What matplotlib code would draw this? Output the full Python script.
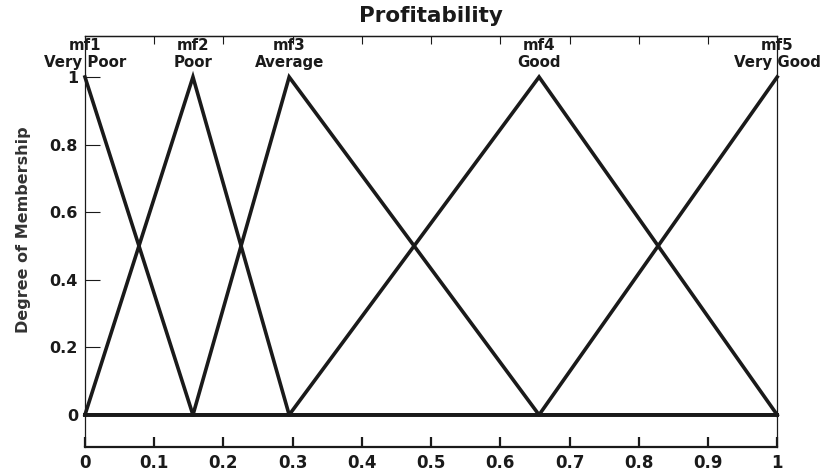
import numpy as np
import matplotlib
matplotlib.use("Agg")
import matplotlib.pyplot as plt

# membership functions, given as breakpoints over the whole universe [0, 1]
mf_names = ["mf1", "mf2", "mf3", "mf4", "mf5"]
mf_terms = ["Very Poor", "Poor", "Average", "Good", "Very Good"]
mf_peaks = [0.0, 0.156, 0.295, 0.656, 1.0]
mf_x = [
    [0.0, 0.156, 1.0],
    [0.0, 0.156, 0.295, 1.0],
    [0.0, 0.156, 0.295, 0.656, 1.0],
    [0.0, 0.295, 0.656, 1.0],
    [0.0, 0.656, 1.0],
]
mf_y = [
    [1, 0, 0],
    [0, 1, 0, 0],
    [0, 0, 1, 0, 0],
    [0, 0, 1, 0],
    [0, 0, 1],
]
x_ticks = [0, 0.1, 0.2, 0.3, 0.4, 0.5, 0.6, 0.7, 0.8, 0.9, 1]
x_ticklabels = ["0", "0.1", "0.2", "0.3", "0.4", "0.5", "0.6", "0.7", "0.8", "0.9", "1"]
y_ticks = [0, 0.2, 0.4, 0.6, 0.8, 1]
y_ticklabels = ["0", "0.2", "0.4", "0.6", "0.8", "1"]

plt.rcParams['font.family'] = ['DejaVu Sans']
plt.rcParams['font.weight'] = 'bold'

fig = plt.figure(figsize=(8.33, 4.75), dpi=100)
ax = fig.add_axes([0.102, 0.059, 0.831, 0.865])

for xs, ys in zip(mf_x, mf_y):
    ax.plot(xs, ys, color='#1a1a1a', lw=2.6, solid_joinstyle='miter', clip_on=False)

for name, term, px in zip(mf_names, mf_terms, mf_peaks):
    ax.text(px, 1.092, name, ha='center', va='center', fontsize=10.8,
            fontweight='bold', color='#1a1a1a')
    ax.text(px, 1.044, term, ha='center', va='center', fontsize=10.8,
            fontweight='bold', color='#1a1a1a')

ax.set_xlim(0, 1)
ax.set_ylim(-0.095, 1.121)
ax.set_xticks(x_ticks)
ax.set_xticklabels(x_ticklabels)
ax.set_yticks(y_ticks)
ax.set_yticklabels(y_ticklabels)

ax.tick_params(axis='x', direction='in', length=7.5, width=1.6, pad=5,
               labelsize=12, colors='#1a1a1a')
ax.tick_params(axis='y', direction='in', length=11, width=0.8, pad=5,
               labelsize=11.5, colors='#1a1a1a')
for lab in ax.get_xticklabels() + ax.get_yticklabels():
    lab.set_fontweight('bold')

# top edge ticks, pointing down
top = ax.secondary_xaxis('top')
top.set_xticks(x_ticks[1:-1])
top.set_xticklabels([])
top.tick_params(direction='in', length=6, width=0.8, colors='#1a1a1a')
top.spines['top'].set_linewidth(0.9)

for side in ['left', 'right', 'top']:
    ax.spines[side].set_linewidth(0.9)
    ax.spines[side].set_color('#1a1a1a')
ax.spines['bottom'].set_linewidth(1.6)
ax.spines['bottom'].set_color('#1a1a1a')

ax.set_title("Profitability", fontsize=15.5, fontweight='bold', pad=10, color='#1a1a1a')
ax.set_ylabel("Degree of Membership", fontsize=11.5, fontweight='bold', color='#333333')
ax.yaxis.set_label_coords(-0.078, 0.53)

fig.savefig("out.png", dpi=100)
